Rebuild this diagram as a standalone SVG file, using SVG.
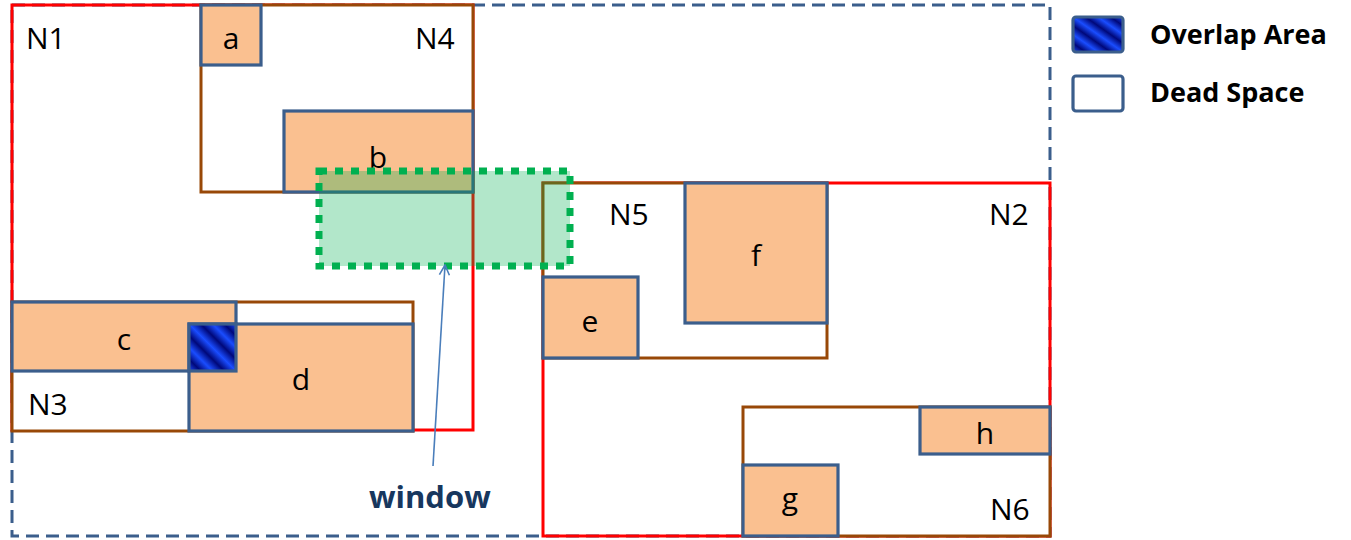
<svg xmlns="http://www.w3.org/2000/svg" width="1351" height="540" viewBox="0 0 1351 540">
  <defs>
    <linearGradient id="stripes" x1="0" y1="0.25" x2="0.25" y2="0" spreadMethod="repeat">
      <stop offset="0" stop-color="#00087a"/>
      <stop offset="0.5" stop-color="#1a4dff"/>
      <stop offset="1" stop-color="#00087a"/>
    </linearGradient>
    <marker id="open" viewBox="0 0 12 12" refX="11" refY="6" markerWidth="12" markerHeight="12" markerUnits="userSpaceOnUse" orient="auto">
      <path d="M1,1 L11,6 L1,11" fill="none" stroke="#4a7ebb" stroke-width="1.6"/>
    </marker>
    <style>
      .node-red { fill: none; stroke: #ff0000; stroke-width: 3; }
      .node-brown { fill: #ffffff; stroke: #984807; stroke-width: 3; }
      .entry { fill: #fac090; stroke: #3b5e8c; stroke-width: 3.2; }
      .lbl { font-family: "Open Sans", "Liberation Sans", sans-serif; font-size: 30px; fill: #000000; }
      .mid { text-anchor: middle; }
      .legend { font-family: "Open Sans", "Liberation Sans", sans-serif; font-size: 27px; font-weight: bold; fill: #000000; }
    </style>
  </defs>
  <rect width="1351" height="540" fill="#ffffff"/>

  <g id="root">
    <rect x="12" y="5" width="1038" height="531" fill="none" stroke="#3b5e8c" stroke-width="3" stroke-dasharray="13 7"/>
  </g>

  <g id="N1">
    <rect class="node-red" x="12" y="5" width="461" height="425" fill="#ffffff"/>
    <text class="lbl" x="26" y="49">N1</text>
  </g>
  <g id="N2">
    <rect class="node-red" x="543" y="183" width="507" height="353" fill="#ffffff"/>
    <text class="lbl" x="989" y="225">N2</text>
  </g>

  <g id="N4">
    <rect class="node-brown" x="201" y="5" width="272" height="187"/>
    <text class="lbl" x="415" y="49">N4</text>
  </g>
  <g id="N3">
    <rect class="node-brown" x="12" y="302" width="401" height="129"/>
    <text class="lbl" x="28" y="415">N3</text>
  </g>
  <g id="N5">
    <rect class="node-brown" x="543" y="183" width="284" height="175"/>
    <text class="lbl" x="609" y="225">N5</text>
  </g>
  <g id="N6">
    <rect class="node-brown" x="743" y="407" width="307" height="129"/>
    <text class="lbl" x="990" y="520">N6</text>
  </g>

  <g id="a">
    <rect class="entry" x="201" y="5" width="60" height="60"/>
    <text class="lbl mid" x="231" y="49">a</text>
  </g>
  <g id="b">
    <rect class="entry" x="284" y="111" width="189" height="81"/>
    <text class="lbl mid" x="378" y="168">b</text>
  </g>
  <g id="c">
    <rect class="entry" x="12" y="302" width="224" height="69"/>
    <text class="lbl mid" x="124" y="350">c</text>
  </g>
  <g id="d">
    <rect class="entry" x="189" y="324" width="224" height="107"/>
    <text class="lbl mid" x="301" y="390">d</text>
  </g>
  <g id="overlap">
    <rect x="189" y="324" width="47" height="47" fill="url(#stripes)" stroke="#3b5e8c" stroke-width="3.2"/>
  </g>
  <g id="e">
    <rect class="entry" x="543" y="277" width="95" height="81"/>
    <text class="lbl mid" x="590" y="332">e</text>
  </g>
  <g id="f">
    <rect class="entry" x="685" y="183" width="142" height="140"/>
    <text class="lbl mid" x="756" y="266">f</text>
  </g>
  <g id="g">
    <rect class="entry" x="743" y="465" width="95" height="71"/>
    <text class="lbl mid" x="790" y="509">g</text>
  </g>
  <g id="h">
    <rect class="entry" x="920" y="407" width="130" height="47"/>
    <text class="lbl mid" x="985" y="444">h</text>
  </g>

  <g id="window">
    <rect x="319" y="171" width="251" height="95" fill="#00b050" fill-opacity="0.3" stroke="#00b050" stroke-width="7" stroke-dasharray="8 8"/>
    <text x="369" y="508" font-family="'Open Sans', 'Liberation Sans', sans-serif" font-size="31" font-weight="bold" fill="#17375e">window</text>
  </g>

  <g id="connectors">
    <line x1="433" y1="466" x2="445" y2="265" stroke="#4a7ebb" stroke-width="1.6" marker-end="url(#open)"/>
  </g>

  <g id="legend">
    <rect x="1073" y="17" width="50" height="35" rx="3" fill="url(#stripes)" stroke="#3b5e8c" stroke-width="3.2"/>
    <text class="legend" x="1150" y="44">Overlap Area</text>
    <rect x="1073" y="76" width="50" height="35" rx="3" fill="#ffffff" stroke="#3b5e8c" stroke-width="3.2"/>
    <text class="legend" x="1150" y="102">Dead Space</text>
  </g>
</svg>
